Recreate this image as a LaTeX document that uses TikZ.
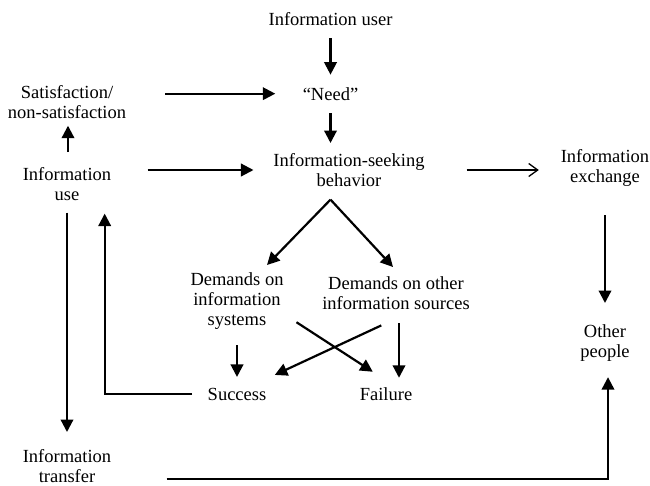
\documentclass[tikz,border=0pt]{standalone}
\usepackage{fontspec}
\setmainfont{Liberation Serif}
\usetikzlibrary{arrows.meta}
\begin{document}
\begin{tikzpicture}[x=1pt,y=-1pt,
  lbl/.style={inner sep=0pt,outer sep=0pt,align=center,font=\fontsize{18.5}{20}\selectfont},
  arr/.style={line width=2.2pt,-{Triangle[length=12.5pt,width=12.5pt]}},
  openarr/.style={line width=1.3pt,-{Straight Barb[length=9pt,width=13pt,line width=1.3pt]}}]
\useasboundingbox (0,0) rectangle (650,485);
% nodes
\node[lbl,anchor=base] (user) at (330.5,25.5) {Information user};
\node[lbl,anchor=base] (need) at (330.5,100) {“Need”};
\node[lbl,anchor=north] (seek) at (349,153.4) {Information-seeking\\behavior};
\node[lbl,anchor=north] (sat) at (67,85.5) {Satisfaction/\\non-satisfaction};
\node[lbl,anchor=north] (use) at (67,167.4) {Information\\use};
\node[lbl,anchor=north] (exch) at (605,149.4) {Information\\exchange};
\node[lbl,anchor=north] (sys) at (237,272.4) {Demands on\\information\\systems};
\node[lbl,anchor=north] (oth) at (396,276.4) {Demands on other\\information sources};
\node[lbl,anchor=base] (succ) at (237,400) {Success};
\node[lbl,anchor=base] (fail) at (386,400) {Failure};
\node[lbl,anchor=north] (people) at (605,324.4) {Other\\people};
\node[lbl,anchor=north] (transfer) at (67,449.4) {Information\\transfer};
\coordinate (apex) at ([xshift=-18.5pt,yshift=-13pt]seek.south);
% connectors
\draw[arr,shorten <=12.5pt,shorten >=12.5pt] (user.south) -- (need.north);
\draw[arr,shorten <=13pt,shorten >=10.4pt] (need.south) -- (need.south |- seek.north);
\draw[arr,shorten <=39pt,shorten >=27.5pt] (sat.east |- need.west) -- (need.west);
\draw[arr,shorten <=15.4pt,shorten >=7pt] ([xshift=1pt]use.north) -- ([xshift=1pt]sat.south);
\draw[arr,shorten <=36.5pt,shorten >=20pt] (use.east |- seek.west) -- (seek.west);
\draw[openarr,shorten <=42pt,shorten >=22pt] (seek.east) -- (seek.east -| exch.west);
\draw[arr] (apex) -- ([xshift=30pt,yshift=7.4pt]sys.north);
\draw[arr] (apex) -- ([xshift=-3pt,yshift=9.4pt]oth.north);
\draw[arr,shorten <=16pt,shorten >=10.8pt] (sys.south) -- (succ.north);
\draw[arr,shorten <=14pt,shorten >=9.4pt] ([xshift=3pt]oth.south) -- ([xshift=3pt]oth.south |- fail.north);
\draw[arr] ([xshift=13pt,yshift=7pt]sys.south east) -- ([xshift=13pt,yshift=15.4pt]fail.north west);
\draw[arr] ([xshift=59pt,yshift=-16pt]oth.south west) -- ([xshift=8.5pt,yshift=12.8pt]succ.north east);
\draw[arr,shorten <=15.5pt] (succ.west) -| ([xshift=-6.5pt,yshift=-13pt]use.south east);
\draw[arr,shorten <=12pt,shorten >=17.4pt] (use.south) -- (transfer.north);
\draw[arr] ([xshift=55.5pt,yshift=-13.3pt]transfer.east) -| ([xshift=3pt,yshift=-16pt]people.south);
\draw[arr,shorten <=29pt,shorten >=21.4pt] (exch.south) -- (people.north);
\end{tikzpicture}
\end{document}
